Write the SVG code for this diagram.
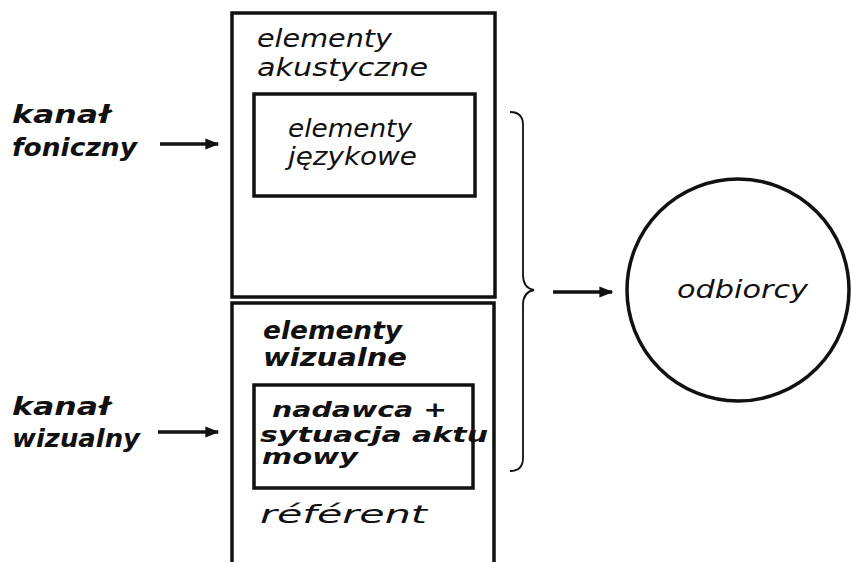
<svg xmlns="http://www.w3.org/2000/svg" width="851" height="562" viewBox="0 0 851 562">
<style>
.box{fill:none;stroke:#111;stroke-width:3.5}
.t{font-family:"DejaVu Sans",sans-serif;font-style:oblique;font-size:24px;fill:#111}
.tb{font-family:"DejaVu Sans",sans-serif;font-style:oblique;font-weight:bold;font-size:24px;fill:#111}
.s{font-size:21px}
.ln{fill:none;stroke:#111;stroke-width:3.5}
</style>
<defs>
<marker id="ah" viewBox="0 0 10 10" refX="9" refY="5" markerWidth="5" markerHeight="4" orient="auto" markerUnits="strokeWidth">
<path d="M0,1 L10,5 L0,9 z" fill="#111"/>
</marker>
</defs>
<rect width="851" height="562" fill="#fff"/>
<g id="kanal-foniczny">
<text class="tb" x="12" y="123" textLength="98" lengthAdjust="spacingAndGlyphs">kanał</text>
<text class="tb" x="12" y="156" textLength="125" lengthAdjust="spacingAndGlyphs">foniczny</text>
</g>
<g id="kanal-wizualny">
<text class="tb" x="12" y="415" textLength="98" lengthAdjust="spacingAndGlyphs">kanał</text>
<text class="tb" x="12" y="447" textLength="128" lengthAdjust="spacingAndGlyphs">wizualny</text>
</g>
<g id="elementy-akustyczne">
<rect class="box" x="232" y="13" width="263" height="284"/>
<text class="t" x="257" y="47" textLength="135" lengthAdjust="spacingAndGlyphs">elementy</text>
<text class="t" x="257" y="76" textLength="171" lengthAdjust="spacingAndGlyphs">akustyczne</text>
</g>
<g id="elementy-jezykowe">
<rect class="box" x="254" y="94" width="221" height="102"/>
<text class="t" x="288" y="137" textLength="124" lengthAdjust="spacingAndGlyphs">elementy</text>
<text class="t" x="288" y="165" textLength="129" lengthAdjust="spacingAndGlyphs">językowe</text>
</g>
<g id="elementy-wizualne">
<path class="box" d="M232,565 V303 H494 V565"/>
<text class="tb" x="263" y="339" textLength="139" lengthAdjust="spacingAndGlyphs">elementy</text>
<text class="tb" x="263" y="366" textLength="144" lengthAdjust="spacingAndGlyphs">wizualne</text>
<text class="t" x="260" y="523" textLength="167" lengthAdjust="spacingAndGlyphs">référent</text>
</g>
<g id="nadawca">
<rect class="box" x="254" y="385" width="219" height="103"/>
<text class="tb s" x="272" y="417" textLength="175" lengthAdjust="spacingAndGlyphs">nadawca +</text>
<text class="tb s" x="260" y="442" textLength="228" lengthAdjust="spacingAndGlyphs">sytuacja aktu</text>
<text class="tb s" x="262" y="464" textLength="96" lengthAdjust="spacingAndGlyphs">mowy</text>
</g>
<g id="odbiorcy">
<circle cx="738" cy="290" r="111" fill="none" stroke="#111" stroke-width="3.5"/>
<text class="t" x="677" y="298" textLength="131" lengthAdjust="spacingAndGlyphs">odbiorcy</text>
</g>
<g id="connectors">
<line class="ln" x1="160" y1="144" x2="218" y2="144" marker-end="url(#ah)"/>
<line class="ln" x1="158" y1="432" x2="218" y2="432" marker-end="url(#ah)"/>
<line class="ln" x1="553" y1="292" x2="612" y2="292" marker-end="url(#ah)"/>
<path d="M510,112 Q523,112 523,125 V275 Q523,288 534,290 Q523,292 523,305 V458 Q523,471 510,471" fill="none" stroke="#111" stroke-width="1.8"/>
</g>
</svg>
